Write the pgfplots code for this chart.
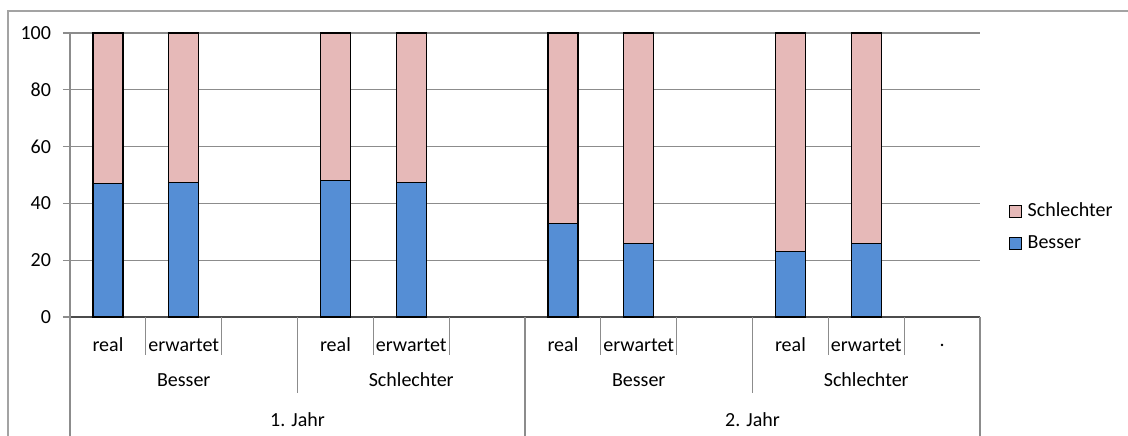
\documentclass[border=0pt]{standalone}
\usepackage{fontspec}
\setmainfont{Carlito}
\usepackage{pgfplots}
\pgfplotsset{compat=1.18}
\definecolor{bblue}{HTML}{558ED5}
\definecolor{bpink}{HTML}{E6B9B8}
\definecolor{gridgray}{HTML}{8C8C8C}
\definecolor{sepgray}{HTML}{8C8C8C}
\begin{document}
\begin{tikzpicture}
\draw[sepgray!80, line width=0.6pt] (-31pt,-70pt) -- (-31pt,153pt) -- (600pt,153pt);
\begin{axis}[
  at={(0,0)}, anchor=south west,
  scale only axis, width=455pt, height=142pt,
  xmin=-0.5, xmax=11.5, ymin=0, ymax=100,
  ybar stacked, bar width=15pt,
  clip=false,
  axis x line*=bottom, axis y line*=left,
  axis line style={gridgray, line width=0.6pt},
  x axis line style={-, black!70},
  y axis line style={-},
  ytick={0,20,...,100},
  ymajorgrids, grid style={gridgray, line width=0.6pt},
  major tick length=3.5pt,
  ytick style={gridgray, line width=0.6pt},
  tick align=outside,
  xtick={0,...,11},
  xticklabels={real,erwartet,,real,erwartet,,real,erwartet,,real,erwartet,.},
  xtick style={draw=none},
  xticklabel style={anchor=center, yshift=-10.5pt},
  yticklabel style={xshift=-2.5pt},
  /pgf/number format/assume math mode=true,
  tick label style={font=\fontsize{10}{12}\selectfont},
  every axis plot/.append style={draw=black, line width=0.6pt},
  reverse legend,
  legend style={at={(1.031,0.317)}, anchor=west, draw=none, fill=none,
    inner sep=0pt, row sep=5.5pt, font=\fontsize{10}{12}\selectfont,
    nodes={inner sep=1.2pt}},
  legend cell align=left,
  legend image code/.code={\path[draw=none,fill=none] (0pt,0pt) -- (8pt,0pt);\draw[#1, line width=0.6pt] (0pt,-3pt) rectangle (6pt,3pt);},
]
\addplot[fill=bblue] coordinates {(0,47) (1,47.5) (3,48) (4,47.5) (6,33) (7,26) (9,23) (10,26)};
\addplot[fill=bpink] coordinates {(0,53) (1,52.5) (3,52) (4,52.5) (6,67) (7,74) (9,77) (10,74)};
\legend{Besser,Schlechter}
\pgfplotsinvokeforeach{0.5,1.5,3.5,4.5,6.5,7.5,9.5,10.5}{
  \draw[sepgray, line width=0.6pt] (axis cs:#1,0) -- ++(0pt,-19pt);
}
\pgfplotsinvokeforeach{2.5,8.5}{
  \draw[sepgray, line width=0.6pt] (axis cs:#1,0) -- ++(0pt,-38pt);
}
\pgfplotsinvokeforeach{-0.5,5.5,11.5}{
  \draw[sepgray, line width=0.6pt] (axis cs:#1,0) -- ++(0pt,-62pt);
}
\node[font=\fontsize{10}{12}\selectfont] at ([yshift=-31.5pt]axis cs:1,0) {Besser};
\node[font=\fontsize{10}{12}\selectfont] at ([yshift=-31.5pt]axis cs:4,0) {Schlechter};
\node[font=\fontsize{10}{12}\selectfont] at ([yshift=-31.5pt]axis cs:7,0) {Besser};
\node[font=\fontsize{10}{12}\selectfont] at ([yshift=-31.5pt]axis cs:10,0) {Schlechter};
\node[font=\fontsize{10}{12}\selectfont] at ([yshift=-51.5pt]axis cs:2.5,0) {1. Jahr};
\node[font=\fontsize{10}{12}\selectfont] at ([yshift=-51.5pt]axis cs:8.5,0) {2. Jahr};
\end{axis}
\pgfresetboundingbox
\path[use as bounding box] (-35pt,-59pt) rectangle (529pt,158.5pt);
\end{tikzpicture}
\end{document}
